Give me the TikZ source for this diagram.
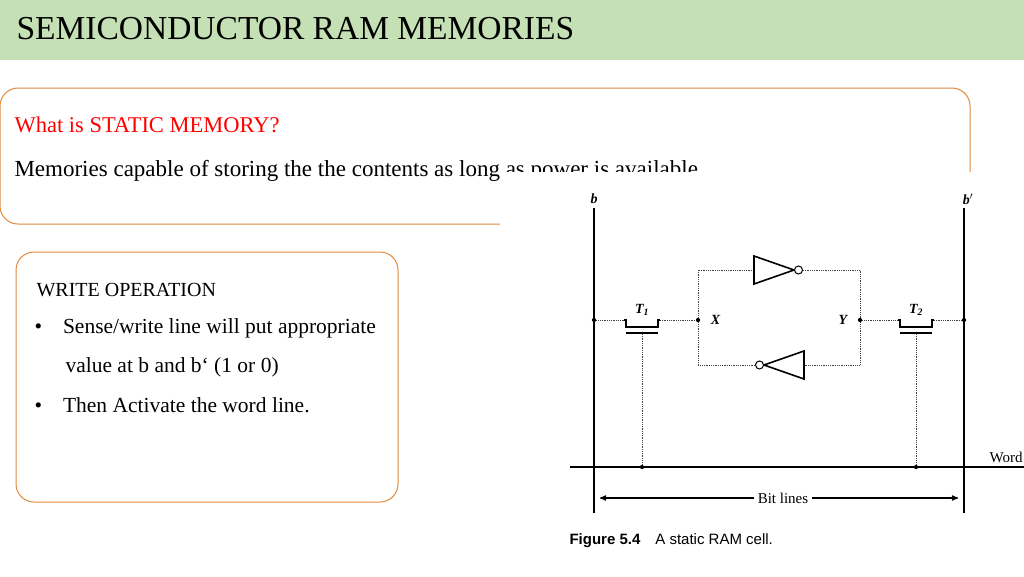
\documentclass[tikz,border=0pt]{standalone}
\usepackage{fontspec}
\setmainfont{Liberation Serif}
\newfontfamily\capfont{Liberation Sans}
\usetikzlibrary{positioning,arrows}
\definecolor{band}{HTML}{C5E0B4}
\definecolor{frame}{HTML}{E08A3C}
\begin{document}
\begin{tikzpicture}[x=1pt,y=-1pt,>=stealth',
  box/.style={draw=frame,line width=1pt,rounded corners=18pt,fill=white},
  wire/.style={line width=0.8pt,densely dotted,black!75},
  bitline/.style={line width=1.8pt},
  lbl/.style={font=\fontsize{14}{15}\selectfont\bfseries\itshape},
  dot/.style={circle,fill=black,inner sep=1.5pt}]
  \useasboundingbox (0,0) rectangle (1024,576);
  % title band
  \fill[band] (0,0) rectangle (1024,60);
  \node[anchor=west,font=\fontsize{33.5}{34}\selectfont] (title) at (13,29) {SEMICONDUCTOR RAM MEMORIES};
  % boxes
  \draw[box] (0,88) rectangle (970,224);
  \node[anchor=west,text=red,font=\fontsize{22.5}{24}\selectfont] (q) at (11,125) {What is STATIC MEMORY?};
  \node[anchor=west,font=\fontsize{23}{24}\selectfont] (ans) at (11,171) {Memories capable of storing the the contents as long as power is available};
  \draw[box] (16,252) rectangle (398,502);
  \node[anchor=west,font=\fontsize{20}{21}\selectfont] (wr) at (33,290) {WRITE OPERATION};
  \node[anchor=west,font=\fontsize{21.5}{22}\selectfont] (b1) at (31,328) {\textbullet\hspace{21pt}Sense/write line will put appropriate};
  \node[anchor=west,font=\fontsize{21.5}{22}\selectfont] (b2) at (62,367) {value at b and b` (1 or 0)};
  \node[anchor=west,font=\fontsize{21.5}{22}\selectfont] (b3) at (31,405) {\textbullet\hspace{21pt}Then Activate the word line.};
  % figure
  \fill[white] (500,172) rectangle (1024,576);
  \coordinate (btop) at (594,208);   \coordinate (bbot) at (594,513);
  \coordinate (bptop) at (964,208);  \coordinate (bpbot) at (964,513);
  \coordinate (wl) at (570,467);     \coordinate (wr2) at (1024,467);
  \draw[bitline] (btop) -- (bbot);
  \draw[bitline] (bptop) -- (bpbot);
  \draw[line width=1.4pt] (wl) -- (wr2);
  \node[lbl] (lb) at (594,199) {b};
  \node[lbl] (lbp) at (968,199) {b$'$};
  \node[anchor=west,font=\fontsize{15}{16}\selectfont] (word) at (986,457) {Word};
  % transistors
  \foreach \n/\x/\k in {T1/642/1,T2/916/2}{
    \draw[line width=1.6pt] (\x-18,320) -- (\x-16,320) -- (\x-16,327) -- (\x+16,327) -- (\x+16,320) -- (\x+18,320);
    \draw[line width=1.6pt] (\x-16,333) -- (\x+16,333);
    \draw[wire] (\x,334) -- (\x,467);
    \node[dot] (\n g) at (\x,467) {};
    \node[lbl] (\n) at (\x,310) {T\textsubscript{\k}};
  }
  \node[dot] (bX) at (594,320) {};
  \node[dot] (bY) at (964,320) {};
  \node[dot] (X) at (698,320) {};
  \node[dot] (Y) at (860,320) {};
  \node[lbl,right=7pt of X] (lX) {X};
  \node[lbl,left=7pt of Y] (lY) {Y};
  \draw[wire] (bX) -- (624,320);  \draw[wire] (660,320) -- (X);
  \draw[wire] (Y) -- (898,320);   \draw[wire] (934,320) -- (bY);
  % inverter loop
  \draw[wire] (X) -- (698,270) -- (754,270);
  \draw[line width=1.6pt] (754,256) -- (794,270) -- (754,284) -- cycle;
  \draw[line width=1pt,fill=white] (798.5,270) circle (4pt);
  \draw[wire] (803,270) -- (860,270) -- (Y);
  \draw[wire] (Y) -- (860,365) -- (804,365);
  \draw[line width=1.6pt] (804,351) -- (764,365) -- (804,379) -- cycle;
  \draw[line width=1pt,fill=white] (759.5,365) circle (4pt);
  \draw[wire] (755,365) -- (698,365) -- (X);
  % bit lines arrow
  \node[font=\fontsize{15}{16}\selectfont] (bits) at (783,498) {Bit lines};
  \coordinate (bl) at (600,498);
  \coordinate (br) at (958,498);
  \draw[->,line width=1.2pt] (bits.west) -- (bl);
  \draw[->,line width=1.2pt] (bits.east) -- (br);
  \node[anchor=west,font=\capfont\fontsize{15}{16}\selectfont] (cap) at (566,541) {\textbf{Figure 5.4}\quad A static RAM cell.};
\end{tikzpicture}
\end{document}
